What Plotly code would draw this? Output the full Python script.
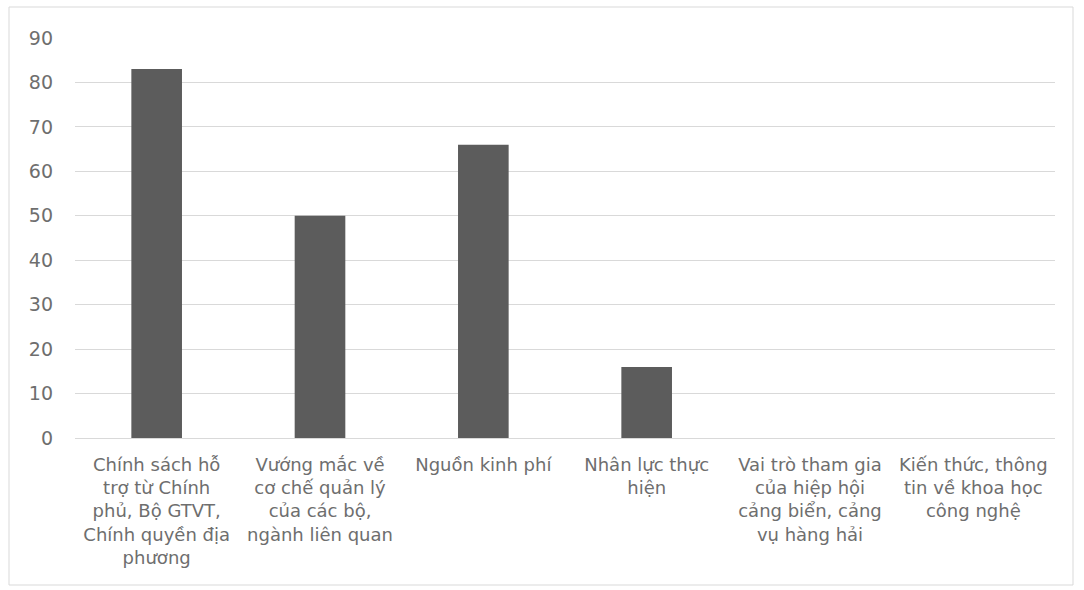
import plotly.graph_objects as go

categories = [
    "Chính sách hỗ<br>trợ từ Chính<br>phủ, Bộ GTVT,<br>Chính quyền địa<br>phương",
    "Vướng mắc về<br>cơ chế quản lý<br>của các bộ,<br>ngành liên quan",
    "Nguồn kinh phí",
    "Nhân lực thực<br>hiện",
    "Vai trò tham gia<br>của hiệp hội<br>cảng biển, cảng<br>vụ hàng hải",
    "Kiến thức, thông<br>tin về khoa học<br>công nghệ",
]
values = [83, 50, 66, 16, 0, 0]
y_ticks = [0, 10, 20, 30, 40, 50, 60, 70, 80, 90]

fig = go.Figure(go.Bar(x=categories, y=values, marker=dict(color="#5c5c5c", line=dict(width=0))))

fig.update_layout(
    width=1084, height=590,
    margin=dict(l=75, r=29, t=38, b=152),
    paper_bgcolor="white", plot_bgcolor="white",
    bargap=0.69,
    showlegend=False,
    font=dict(family="DejaVu Sans, Arial, sans-serif", size=18, color="#6e6e6e"),
    xaxis=dict(showgrid=False, showline=True, linecolor="#d9d9d9", linewidth=1,
               tickfont=dict(size=18, color="#6e6e6e"), ticks="", ticklabelstandoff=10),
    yaxis=dict(range=[0, 90], tickvals=y_ticks, showgrid=True, gridcolor="#d9d9d9",
               gridwidth=1, zeroline=False, showline=False,
               tickfont=dict(size=19, color="#6e6e6e"), ticks="", ticklabelstandoff=21),
    shapes=[dict(type="rect", xref="paper", yref="paper",
                 x0=(9 - 75) / 980, x1=(1073 - 75) / 980,
                 y0=(438 - 585) / 400, y1=(438 - 7) / 400,
                 line=dict(color="#d9d9d9", width=1), fillcolor="rgba(0,0,0,0)", layer="below")],
)

fig.write_html("out.html")
